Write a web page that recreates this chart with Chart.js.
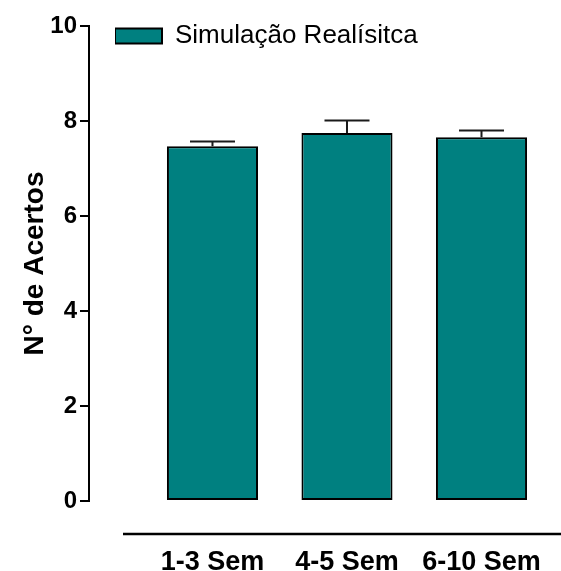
<!DOCTYPE html>
<html>
<head>
<meta charset="utf-8">
<script src="https://cdn.jsdelivr.net/npm/chart.js@4.4.1/dist/chart.umd.min.js"></script>
<style>
  html, body { margin: 0; padding: 0; background: #fff; }
  #wrap { width: 561px; height: 571px; position: relative; }
</style>
</head>
<body>
<div id="wrap"><canvas id="c" width="561" height="571"></canvas></div>
<script>
const categories = ['1-3 Sem', '4-5 Sem', '6-10 Sem'];
const seriesName = 'Simulação Realísitca';
const values = [7.47, 7.75, 7.66];
const errors = [0.10, 0.26, 0.14];
const yTicks = [0, 2, 4, 6, 8, 10];
const yTitle = 'N° de Acertos';

const FONT = "'Liberation Sans', Arial, Helvetica, sans-serif";

const errorBars = {
  id: 'errorBars',
  afterDatasetsDraw(chart) {
    const ctx = chart.ctx;
    const ys = chart.scales.y;
    const meta = chart.getDatasetMeta(0);
    ctx.save();
    ctx.strokeStyle = '#1a1a1a';
    ctx.lineWidth = 2;
    meta.data.forEach((bar, i) => {
      const top = ys.getPixelForValue(values[i] + errors[i]);
      const x = bar.x;
      ctx.beginPath();
      ctx.moveTo(x, bar.y);
      ctx.lineTo(x, top);
      ctx.moveTo(x - 22.5, top);
      ctx.lineTo(x + 22.5, top);
      ctx.stroke();
    });
    ctx.restore();
  }
};

const xAxisLine = {
  id: 'xAxisLine',
  afterDraw(chart) {
    const ctx = chart.ctx;
    const y = chart.scales.y.getPixelForValue(0) + 33;
    ctx.save();
    ctx.strokeStyle = '#000';
    ctx.lineWidth = 2.5;
    ctx.beginPath();
    ctx.moveTo(123, y);
    ctx.lineTo(chart.width, y);
    ctx.stroke();
    ctx.restore();
  }
};

const moveLegend = {
  id: 'moveLegend',
  afterLayout(chart) {
    const lg = chart.legend;
    if (lg) { lg.left = 115; lg.top = 23; }
  }
};

new Chart(document.getElementById('c'), {
  type: 'bar',
  data: {
    datasets: [{
      label: seriesName,
      data: values.map((v, i) => ({ x: i + 1, y: v })),
      backgroundColor: '#008080',
      borderColor: '#000',
      borderWidth: 2,
      borderSkipped: false,
      categoryPercentage: 1,
      barPercentage: 0.677
    }]
  },
  options: {
    responsive: false,
    animation: false,
    devicePixelRatio: 1,
    layout: { padding: { top: 26, left: 0, right: 0, bottom: 0 } },
    plugins: {
      legend: {
        position: 'chartArea',
        align: 'start',
        labels: {
          boxWidth: 47,
          boxHeight: 15,
          padding: 0,
          color: '#000',
          font: { family: FONT, size: 26 }
        }
      },
      tooltip: { enabled: false }
    },
    scales: {
      x: {
        type: 'linear',
        offset: false,
        min: 0.082,
        max: 3.591,
        afterBuildTicks(scale) { scale.ticks = categories.map((c, i) => ({ value: i + 1 })); },
        afterFit(scale) { scale.height = 70; scale.paddingLeft = 0; scale.paddingRight = 0; },
        grid: { display: false, drawTicks: false },
        border: { display: false },
        ticks: {
          padding: 45,
          color: '#000',
          autoSkip: false,
          maxRotation: 0,
          font: { family: FONT, size: 27, weight: 'bold' },
          callback: (v) => categories[v - 1]
        }
      },
      y: {
        min: 0,
        max: 10,
        afterBuildTicks(scale) { scale.ticks = yTicks.map(v => ({ value: v })); },
        afterFit(scale) { scale.width = 89; },
        grid: {
          display: true,
          drawOnChartArea: false,
          drawTicks: true,
          tickLength: 9,
          color: '#000',
          lineWidth: 2
        },
        border: { display: true, color: '#000', width: 2 },
        ticks: {
          padding: 3,
          color: '#000',
          font: { family: FONT, size: 24, weight: 'bold' }
        },
        title: {
          display: true,
          text: yTitle,
          color: '#000',
          padding: { top: 18, bottom: 0 },
          font: { family: FONT, size: 28, weight: 'bold' }
        }
      }
    }
  },
  plugins: [errorBars, xAxisLine, moveLegend]
});
</script>
</body>
</html>
